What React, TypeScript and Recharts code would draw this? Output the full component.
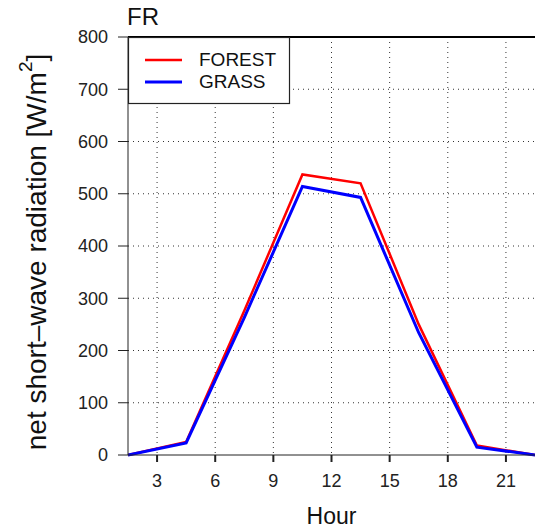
import React from "react";
import { LineChart, Line, XAxis, YAxis, CartesianGrid, ReferenceLine, Label } from "recharts";

const hours = [1.5, 4.5, 7.5, 10.5, 13.5, 16.5, 19.5, 22.5];
const forest = [0, 25, 276, 537, 520, 250, 18, 0];
const grass = [0, 23, 263, 514, 493, 234, 15, 0];
const xTicks = [3, 6, 9, 12, 15, 18, 21];
const yTicks = [0, 100, 200, 300, 400, 500, 600, 700, 800];
const seriesNames = ["FOREST", "GRASS"];

const data = hours.map((h, i) => ({ hour: h, FOREST: forest[i], GRASS: grass[i] }));

const FONT = "'Liberation Sans', Arial, Helvetica, sans-serif";

const YLabel = (props: any) => {
  const cy = 252;
  const cx = 36;
  return (
    <text
      x={cx}
      y={cy}
      transform={`rotate(-90, ${cx}, ${cy})`}
      textAnchor="middle"
      dominantBaseline="central"
      fontSize={28}
      fontFamily={FONT}
      fill="#111"
    >
      net short–wave radiation [W/m
      <tspan baselineShift="super" fontSize={19}>2</tspan>]
    </text>
  );
};

const XLabel = (props: any) => {
  const vb = props.viewBox || {};
  const cx = (vb.x ?? 128) + (vb.width ?? 407) / 2;
  return (
    <text x={cx} y={524} textAnchor="middle" fontSize={23} fontFamily={FONT} fill="#111">
      Hour
    </text>
  );
};

const LegendBox = () => (
  <svg width={163} height={68} style={{ display: "block" }}>
    <rect x={0.5} y={0.5} width={161} height={66} fill="#fff" stroke="#222" strokeWidth={1.2} />
    <line x1={17} x2={54} y1={23} y2={23} stroke="#ff0000" strokeWidth={2.5} />
    <line x1={17} x2={54} y1={45} y2={45} stroke="#0000ff" strokeWidth={3} />
    <text x={71} y={29} fontSize={19} fontFamily={FONT} fill="#111">{seriesNames[0]}</text>
    <text x={71} y={51} fontSize={19} fontFamily={FONT} fill="#111">{seriesNames[1]}</text>
  </svg>
);

export default function App() {
  return (
    <div style={{ position: "absolute", left: 0, top: 0, width: 535, height: 530, background: "#fff" }}>
      <LineChart width={535} height={530} data={data} margin={{ top: 37, right: 0, bottom: 0, left: 0 }}>
        <CartesianGrid stroke="#333" strokeDasharray="1 4" horizontalValues={[100,200,300,400,500,600,700]} verticalValues={xTicks} />
        <XAxis
          dataKey="hour"
          type="number"
          domain={[1.5, 22.5]}
          ticks={xTicks}
          interval={0}
          height={75}
          allowDataOverflow
          stroke="#222"
          tickLine={{ stroke: "#222", strokeWidth: 2 }}
          tickSize={7}
          tickMargin={12}
          tick={{ fontSize: 18, fontFamily: FONT, fill: "#222" }}
          label={<XLabel />}
        />
        <YAxis
          type="number"
          domain={[0, 800]}
          ticks={yTicks}
          interval={0}
          width={128}
          stroke="#222"
          tickSize={10}
          tickMargin={10}
          tick={{ fontSize: 18, fontFamily: FONT, fill: "#222" }}
          label={<YLabel />}
        />
        <ReferenceLine y={800} stroke="#000" strokeWidth={2} />
        <Line dataKey="FOREST" stroke="#ff0000" strokeWidth={2.5} dot={false} isAnimationActive={false} />
        <Line dataKey="GRASS" stroke="#0000ff" strokeWidth={3} dot={false} isAnimationActive={false} />
      </LineChart>
      <div style={{ position: "absolute", left: 128, top: 37 }}>
        <LegendBox />
      </div>
      <div style={{ position: "absolute", left: 127, top: 3, fontSize: 24, fontFamily: FONT, color: "#111", lineHeight: "28px" }}>FR</div>
    </div>
  );
}
